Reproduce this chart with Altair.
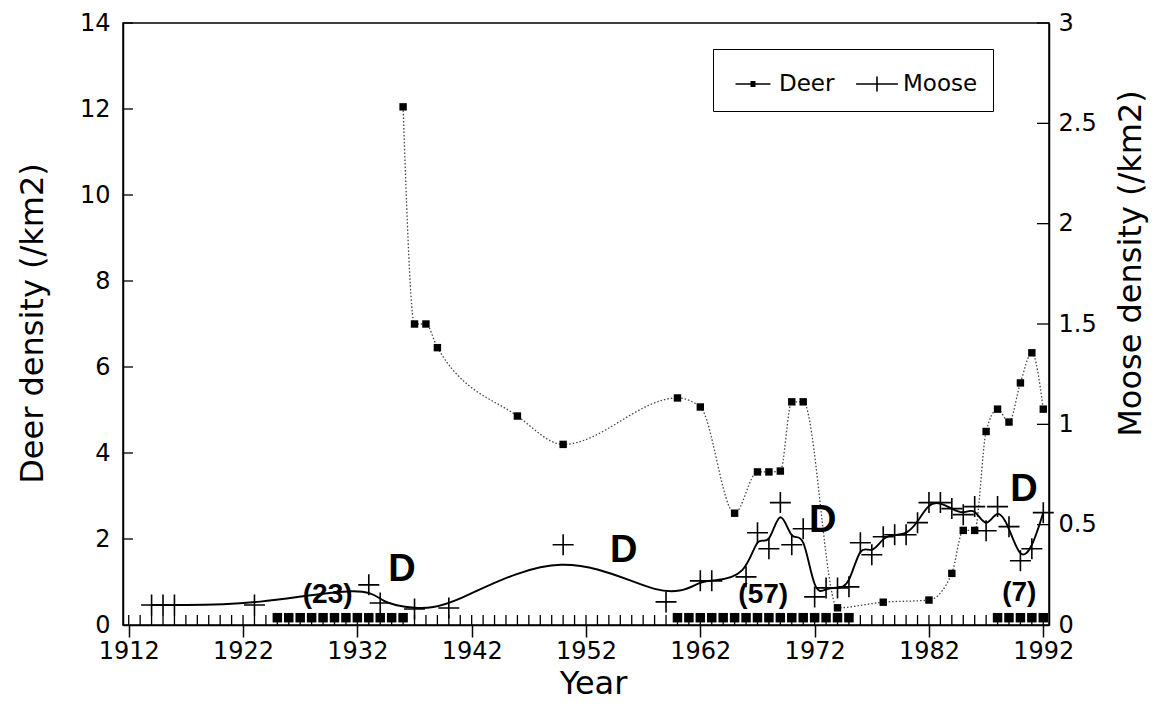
import altair as alt
import pandas as pd

# ---------------- data ----------------
deer_years = [1936, 1937, 1938, 1939, 1946, 1950, 1960, 1962, 1965, 1967, 1968, 1969,
              1970, 1971, 1974, 1978, 1982, 1984, 1985, 1986, 1987, 1988, 1989, 1990,
              1991, 1992]
deer_vals = [12.05, 7.0, 7.0, 6.45, 4.86, 4.2, 5.28, 5.07, 2.6, 3.56, 3.56, 3.58,
             5.19, 5.19, 0.4, 0.53, 0.58, 1.2, 2.2, 2.2, 4.5, 5.02, 4.72, 5.63,
             6.33, 5.02]

moose_years = [1914, 1915, 1916, 1923, 1933, 1934, 1937, 1940, 1950, 1959, 1962, 1963,
               1966, 1967, 1968, 1969, 1970, 1971, 1972, 1973, 1974, 1975, 1976, 1977,
               1978, 1979, 1980, 1981, 1982, 1983, 1984, 1985, 1986, 1987, 1988, 1989,
               1990, 1991, 1992]
moose_vals = [0.1, 0.1, 0.1, 0.1, 0.2, 0.11, 0.08, 0.085, 0.40, 0.115, 0.22, 0.22,
              0.24, 0.46, 0.38, 0.61, 0.40, 0.48, 0.14, 0.185, 0.185, 0.19, 0.41, 0.35,
              0.44, 0.45, 0.45, 0.51, 0.61, 0.61, 0.58, 0.55, 0.59, 0.47, 0.59, 0.49,
              0.32, 0.38, 0.56]

# filled marks along the base of the plot
rug_years = list(range(1925, 1937)) + list(range(1960, 1976)) + list(range(1988, 1993))
rug_level = 0.17

# annotations (year, deer-axis value)
d_years = [1935.9, 1955.3, 1972.7, 1990.3]
d_vals = [1.28, 1.72, 2.42, 3.14]
n_labels = ["(23)", "(57)", "(7)"]
n_years = [1929.4, 1967.5, 1989.9]
n_vals = [0.70, 0.70, 0.74]

x_ticks = [1912, 1922, 1932, 1942, 1952, 1962, 1972, 1982, 1992]
year_minor = list(range(1912, 1993))
deer_ticks = [0, 2, 4, 6, 8, 10, 12, 14]
moose_ticks = [0, 0.5, 1, 1.5, 2, 2.5, 3]
series = ["Deer", "Moose"]

# ---------------- chart ----------------
W, H = 926, 602
FONT = "DejaVu Sans"

X = alt.X("year:Q",
          scale=alt.Scale(domain=[1911.5, 1992.5], nice=False, zero=False),
          axis=alt.Axis(values=x_ticks, format="d", tickSize=12, tickWidth=1.5,
                        labelPadding=2, title="Year", titleX=470, titleY=58,
                        titleBaseline="middle", titleAlign="center"))

YD = alt.Y("deer:Q",
           scale=alt.Scale(domain=[0, 14], nice=False, zero=True),
           axis=alt.Axis(values=deer_ticks, ticks=False, labelPadding=13,
                         title="Deer density (/km2)", titleAngle=270, titleX=-91,
                         titleY=300, titleAlign="center", titleBaseline="middle"))

YM = alt.Y("moose:Q",
           scale=alt.Scale(domain=[0, 3], nice=False, zero=True),
           axis=alt.Axis(values=moose_ticks, ticks=False, labelPadding=9,
                         format="~g", orient="right", title="Moose density (/km2)",
                         titleAngle=270, titleX=81, titleY=240, titleAlign="center",
                         titleBaseline="middle"))

deer_df = pd.DataFrame({"year": deer_years, "deer": deer_vals})
moose_df = pd.DataFrame({"year": moose_years, "moose": moose_vals})
rug_df = pd.DataFrame({"year": rug_years, "deer": [rug_level] * len(rug_years)})
d_df = pd.DataFrame({"year": d_years, "deer": d_vals, "t": ["D"] * len(d_years)})
n_df = pd.DataFrame({"year": n_years, "deer": n_vals, "t": n_labels})
minor_df = pd.DataFrame({"year": year_minor})
dt_df = pd.DataFrame({"deer": deer_ticks[1:]})
mt_df = pd.DataFrame({"moose": moose_ticks[1:]})

deer_line = alt.Chart(deer_df).mark_line(
    interpolate="monotone", color="#444444", strokeWidth=1.3, strokeDash=[1.5, 2]
).encode(x=X, y=YD)
deer_pts = alt.Chart(deer_df).mark_square(size=55, color="black", opacity=1).encode(x=X, y=YD)
rug = alt.Chart(rug_df).mark_square(size=90, color="black", opacity=1).encode(x=X, y=YD)
minor = alt.Chart(minor_df).mark_rule(color="black", strokeWidth=1.3).encode(
    x=X, y=alt.value(H), y2=alt.value(H - 10))
left_ticks = alt.Chart(dt_df).mark_rule(color="black", strokeWidth=1.3).encode(
    y=YD, x=alt.value(0), x2=alt.value(10))
d_text = alt.Chart(d_df).mark_text(
    font="Liberation Sans", fontSize=38, fontWeight="bold", color="black",
    align="center", baseline="middle"
).encode(x=X, y=YD, text="t:N")
n_text = alt.Chart(n_df).mark_text(
    font="Liberation Sans", fontSize=28, fontWeight="bold", color="black",
    align="center", baseline="middle"
).encode(x=X, y=YD, text="t:N")

deer_layer = alt.layer(deer_line, rug, minor, left_ticks, deer_pts, d_text, n_text)

moose_line = alt.Chart(moose_df).mark_line(
    interpolate="basis", color="black", strokeWidth=1.9
).encode(x=X, y=YM)
moose_pts = alt.Chart(moose_df).mark_point(
    shape="M-1,0H1M0,-1V1", size=441, filled=False, color="black",
    strokeWidth=1.6, opacity=1
).encode(x=X, y=YM)
right_ticks = alt.Chart(mt_df).mark_rule(color="black", strokeWidth=1.3).encode(
    y=YM, x=alt.value(W - 12), x2=alt.value(W))

moose_layer = alt.layer(moose_line, moose_pts, right_ticks)

# legend glyphs: a line with a solid dot (Deer) and a line with a cross bar (Moose)
deer_path = ("M-0.92,0H0.92M-0.13,-0.12H0.13M-0.13,-0.06H0.13"
             "M-0.13,0.06H0.13M-0.13,0.12H0.13")
moose_path = "M-1.1,0H1.1M0,-0.4V0.4"
legend_layer = alt.Chart(pd.DataFrame({"series": series})).mark_point(
    filled=False, color="black", strokeWidth=1.6, opacity=1
).encode(
    shape=alt.Shape("series:N",
                    scale=alt.Scale(domain=series, range=[deer_path, moose_path]),
                    legend=alt.Legend(title=None, orient="none", direction="horizontal",
                                      legendX=590, legendY=26, padding=15,
                                      symbolSize=1444, symbolOffset=5,
                                      labelOffset=6, columnPadding=17,
                                      labelFont=FONT, labelFontSize=23,
                                      labelColor="black", strokeColor="black",
                                      symbolStrokeColor="black",
                                      symbolStrokeWidth=1.6,
                                      symbolOpacity=1))
).transform_filter("false")

chart = alt.layer(deer_layer, moose_layer, legend_layer).resolve_scale(
    y="independent"
).properties(
    width=W, height=H,
    autosize=alt.AutoSizeParams(type="none"),
    padding={"left": 115, "top": 15, "right": 103, "bottom": 82},
    background="white",
).configure_axis(
    domainColor="black", domainWidth=1.5, tickColor="black", grid=False,
    labelFont=FONT, labelFontSize=24, labelColor="black",
    titleFont=FONT, titleFontSize=32, titleFontWeight="normal", titleColor="black",
).configure_view(stroke="black", strokeWidth=1.5)

chart.save("out.html", embed_options={"renderer": "svg", "actions": False})
